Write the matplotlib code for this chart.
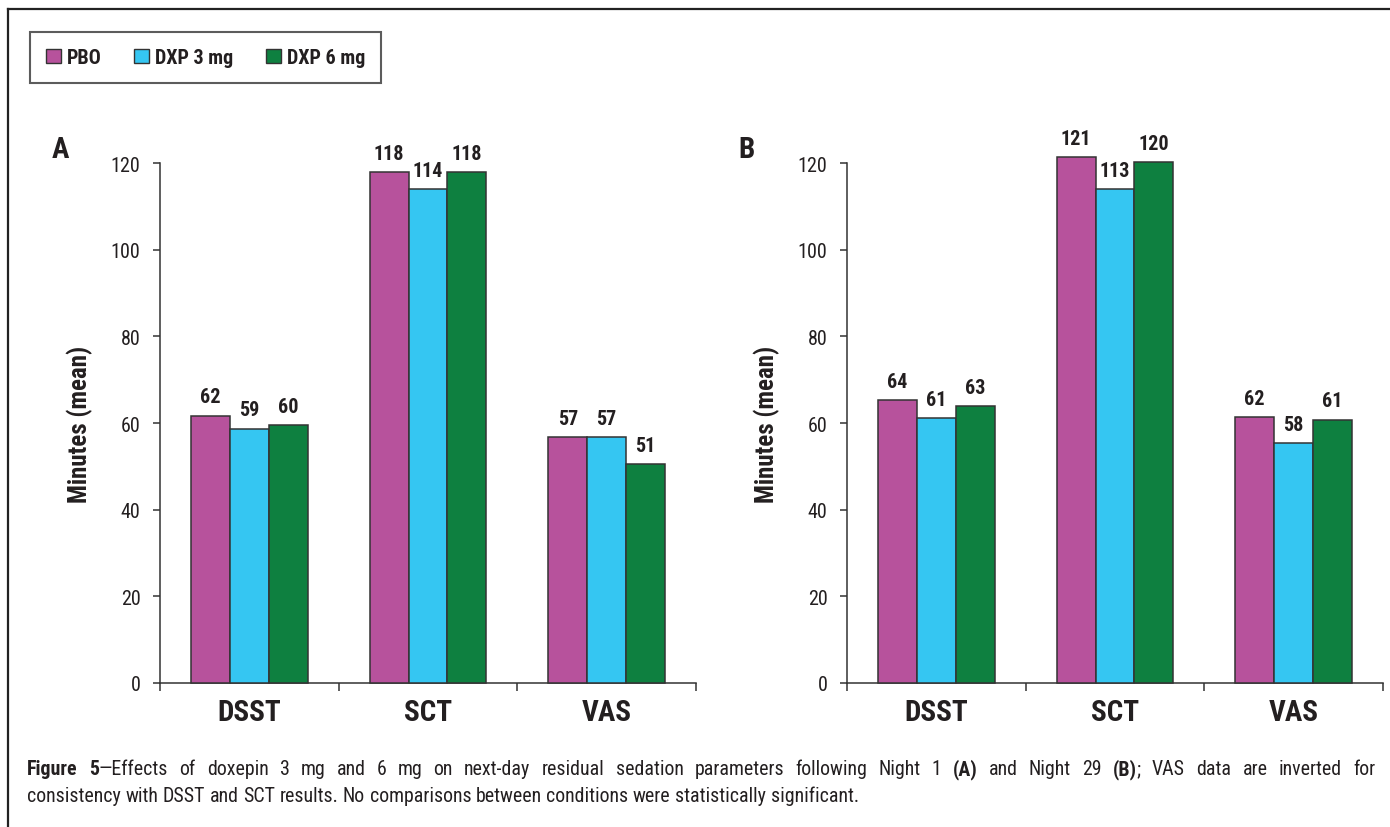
import matplotlib
matplotlib.use("Agg")
import matplotlib.pyplot as plt
from matplotlib import font_manager
from matplotlib.lines import Line2D
from matplotlib.patches import Patch
import numpy as np

# ---------------- data ----------------
categories = ["DSST", "SCT", "VAS"]
series_names = ["PBO", "DXP 3 mg", "DXP 6 mg"]
colors = ["#B7529C", "#35C6F2", "#0E8040"]

# Panel A (Night 1): bar heights and printed labels
a_pbo = [61.7, 117.9, 56.8]
a_dxp3 = [58.7, 114.0, 56.8]
a_dxp6 = [59.6, 117.9, 50.6]
a_pbo_lbl = ["62", "118", "57"]
a_dxp3_lbl = ["59", "114", "57"]
a_dxp6_lbl = ["60", "118", "51"]

# Panel B (Night 29)
b_pbo = [65.2, 121.4, 61.4]
b_dxp3 = [61.1, 114.0, 55.3]
b_dxp6 = [63.9, 120.2, 60.8]
b_pbo_lbl = ["64", "121", "62"]
b_dxp3_lbl = ["61", "113", "58"]
b_dxp6_lbl = ["63", "120", "61"]

y_ticks = [0, 20, 40, 60, 80, 100, 120]
y_label = "Minutes (mean)"

caption_line1 = [("Figure 5", "bold"),
                 ("\u2014Effects of doxepin 3 mg and 6 mg on next-day residual sedation parameters following Night 1 ", "normal"),
                 ("(A)", "bold"), (" and Night 29 ", "normal"), ("(B)", "bold"),
                 ("; VAS data are inverted for", "normal")]
caption_line2 = [("consistency with DSST and SCT results. No comparisons between conditions were statistically significant.", "normal")]

# ---------------- fonts ----------------
avail = {f.name for f in font_manager.fontManager.ttflist}
PREF = ["Liberation Sans Narrow", "Arial Narrow", "Roboto Condensed",
        "Open Sans Condensed", "Liberation Sans", "DejaVu Sans"]
FAM = [f for f in PREF if f in avail] or ["DejaVu Sans"]
NARROW = FAM[0] in ("Liberation Sans Narrow", "Arial Narrow", "Roboto Condensed",
                    "Open Sans Condensed")
plt.rcParams["font.family"] = FAM

k = 1.0 if NARROW else 0.93

W, H = 1390, 828
fig = plt.figure(figsize=(W / 100, H / 100), dpi=100)
fig.patch.set_facecolor("white")

def fx(px):
    return px / W

def fy(py):
    return 1 - py / H

EDGE = "#333333"
TXT = "#231F20"

def draw_panel(left_px, vals, lbls, letter, letter_x):
    ax = fig.add_axes([fx(left_px), fy(684), 536 / W, 520 / H])
    x = np.arange(len(categories))
    bw = 0.218
    for i, (v, lb) in enumerate(zip(vals, lbls)):
        bars = ax.bar(x + (i - 1) * bw, v, width=bw, color=colors[i],
                      edgecolor=EDGE, linewidth=1.1, zorder=3, clip_on=False)
        for rect, t in zip(bars, lb):
            ax.annotate(t, (rect.get_x() + rect.get_width() / 2, rect.get_height()),
                        xytext=(0, 9.5), textcoords="offset points",
                        ha="center", va="baseline", fontsize=14.5 * k,
                        fontweight="bold", color=TXT, annotation_clip=False)
    ax.set_xlim(-0.5, 2.5)
    ax.set_ylim(0, 120)
    ax.set_yticks(y_ticks)
    ax.tick_params(axis="y", direction="out", length=5, width=1.1,
                   colors=EDGE, labelsize=14.5 * k, pad=9, labelcolor=TXT)
    ax.set_xticks([-0.5, 0.5, 1.5, 2.5])
    ax.set_xticklabels([])
    ax.tick_params(axis="x", which="major", direction="out", length=6,
                   width=1.1, colors=EDGE)
    ax.set_xticks(x, minor=True)
    ax.set_xticklabels(categories, minor=True, fontsize=21 * k,
                       fontweight="bold", color=TXT)
    ax.tick_params(axis="x", which="minor", length=0, pad=11)
    for s in ["top", "right"]:
        ax.spines[s].set_visible(False)
    for s in ["left", "bottom"]:
        ax.spines[s].set_color(EDGE)
        ax.spines[s].set_linewidth(1.1)
    ax.set_ylabel(y_label, fontsize=18 * k, fontweight="bold", color=TXT)
    ax.yaxis.set_label_coords(-0.125, 0.5)
    fig.text(fx(letter_x), fy(158), letter, fontsize=21 * k, fontweight="bold",
             ha="left", va="baseline", color=TXT)
    return ax

draw_panel(160, [a_pbo, a_dxp3, a_dxp6], [a_pbo_lbl, a_dxp3_lbl, a_dxp6_lbl], "A", 52)
draw_panel(847, [b_pbo, b_dxp3, b_dxp6], [b_pbo_lbl, b_dxp3_lbl, b_dxp6_lbl], "B", 738)

# legend
handles = [Patch(facecolor=c, edgecolor=EDGE, linewidth=1.0) for c in colors]
leg = fig.legend(handles, series_names, loc="upper left",
                 bbox_to_anchor=(fx(30), fy(33)), ncol=3, frameon=True,
                 fancybox=False, prop={"weight": "bold", "size": 14.5 * k},
                 handlelength=0.75, handleheight=0.75, handletextpad=0.3,
                 columnspacing=1.6, borderpad=0.8, borderaxespad=0)
leg.get_frame().set_edgecolor(EDGE)
leg.get_frame().set_linewidth(1.5)
for t in leg.get_texts():
    t.set_color(TXT)

# outer frame (top & left visible)
fig.add_artist(Line2D([fx(8), 1.0], [fy(10), fy(10)], color="#222222", lw=1.6))
fig.add_artist(Line2D([fx(8), fx(8)], [fy(10), 0.0], color="#222222", lw=1.6))

# caption
renderer = fig.canvas.get_renderer()

def text_w(txt, size, wt):
    t = fig.text(0, 0, txt, fontsize=size, fontweight=wt)
    w = t.get_window_extent(renderer=renderer).width
    t.remove()
    return w

def tokenize(segments):
    toks = []
    for txt, wt in segments:
        parts = txt.split(" ")
        for j, p in enumerate(parts):
            if p:
                toks.append([p, wt, False])
            if j < len(parts) - 1 and toks:
                toks[-1][2] = True
    return toks

def draw_line(segments, x0_px, x1_px, base_px, size, justify):
    toks = tokenize(segments)
    space = text_w("a a", size, "normal") - text_w("aa", size, "normal")
    widths = [text_w(t[0], size, t[1]) for t in toks]
    ngaps = sum(1 for t in toks[:-1] if t[2])
    natural = sum(widths) + ngaps * space
    gap = space
    if justify and ngaps:
        gap = space + max(0.0, (x1_px - x0_px - natural) / ngaps)
    x = x0_px
    for (word, wt, sp), w in zip(toks, widths):
        fig.text(fx(x), fy(base_px), word, fontsize=size, fontweight=wt,
                 ha="left", va="baseline", color=TXT)
        x += w + (gap if sp else 0)

cap_size = 14.3
draw_line(caption_line1, 27, 1375, 775, cap_size, True)
draw_line(caption_line2, 27, 1375, 802, cap_size, False)

fig.savefig("out.png", dpi=100)
